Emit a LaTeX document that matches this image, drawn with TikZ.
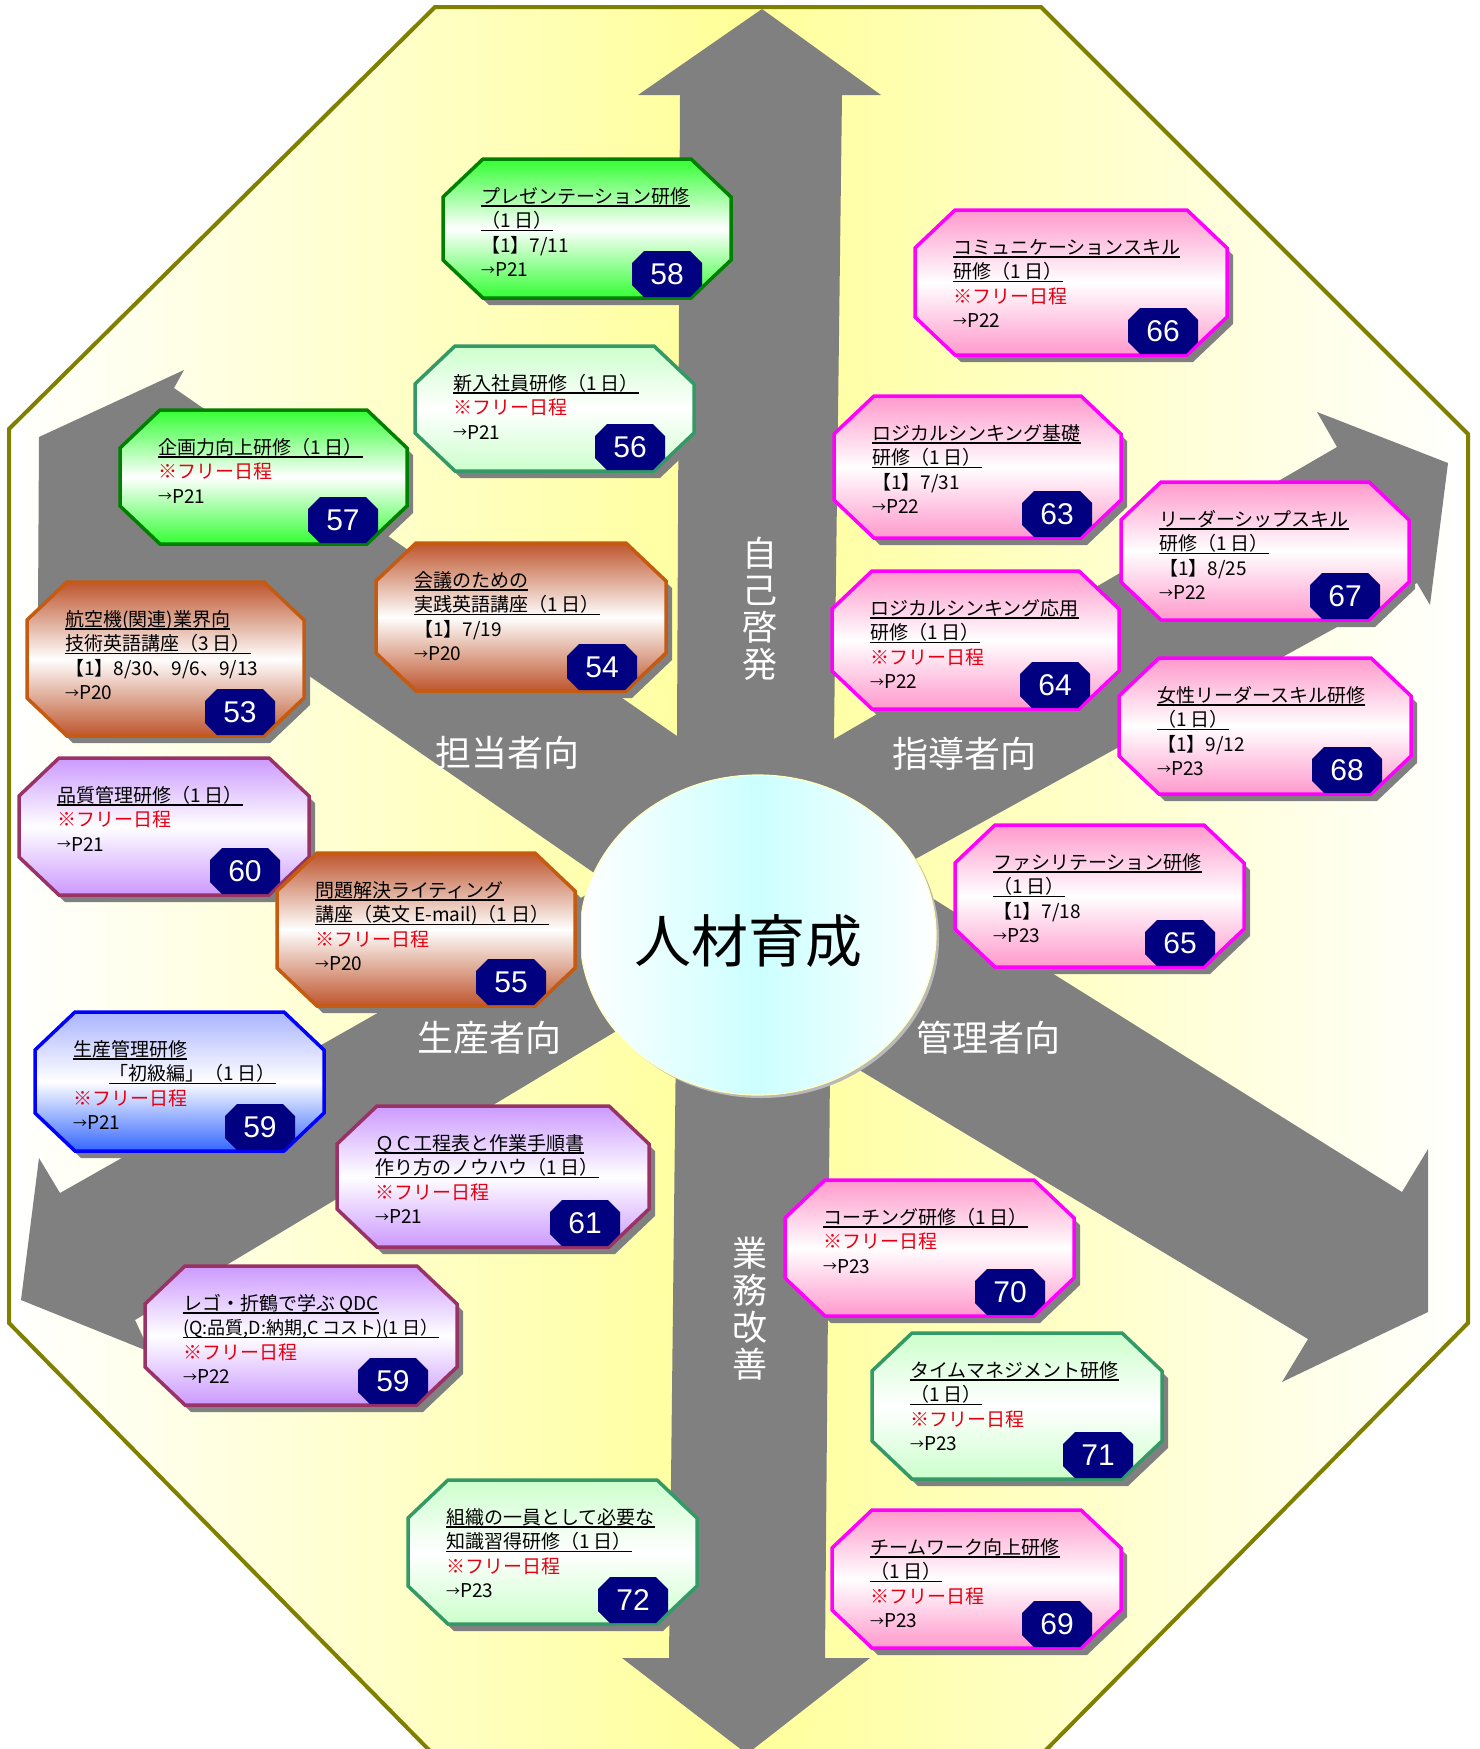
\documentclass[tikz,border=0pt]{standalone}
\usepackage{fontspec}
\setmainfont{Noto Sans CJK JP}
\newfontfamily\numfont{Liberation Sans}
\usetikzlibrary{shapes.geometric}
\definecolor{olivec}{RGB}{128,128,0}
\definecolor{yel}{RGB}{255,255,153}
\definecolor{arrowgray}{RGB}{128,128,128}
\definecolor{shadowc}{RGB}{128,128,128}
\definecolor{navyc}{RGB}{0,0,128}
\definecolor{jred}{RGB}{230,0,18}
\definecolor{cyanc}{RGB}{204,255,255}
\definecolor{grnfill}{RGB}{51,255,51}
\definecolor{grnline}{RGB}{0,128,0}
\definecolor{lgfill}{RGB}{204,255,204}
\definecolor{lgline}{RGB}{51,153,102}
\definecolor{pkfill}{RGB}{255,153,204}
\definecolor{pkline}{RGB}{255,0,255}
\definecolor{brfill}{RGB}{190,85,45}
\definecolor{brline}{RGB}{197,90,17}
\definecolor{pufill}{RGB}{204,153,255}
\definecolor{puline}{RGB}{153,51,102}
\definecolor{blfill}{RGB}{51,102,255}
\definecolor{bltop}{RGB}{170,180,255}
\definecolor{blline}{RGB}{0,0,255}
\newcommand\Ln[1]{\hbox{\rule[-6pt]{0pt}{24.5pt}#1}}
\newcommand\ulx[1]{\setbox0\hbox{#1}\rlap{\rule[-3.4pt]{\wd0}{1.3pt}}\box0}
\newcommand\fr{\textcolor{jred}{※フリー日程}}
\newcommand\arr{\raisebox{1.5pt}{\fontsize{14}{14}\selectfont →}}
\tikzset{
  boxline/.style={line width=3.5pt, line join=miter},
  greenbox/.style={top color=grnfill, bottom color=grnfill, middle color=white, draw=grnline},
  lgbox/.style={top color=lgfill, bottom color=lgfill, middle color=white, draw=lgline},
  pinkbox/.style={top color=pkfill, bottom color=pkfill, middle color=white, draw=pkline},
  brownbox/.style={top color=brfill, bottom color=brfill, middle color=white, draw=brline},
  purplebox/.style={top color=pufill, bottom color=pufill, middle color=white, draw=puline},
  bluebox/.style={top color=bltop, bottom color=blfill, middle color=white, draw=blline},
  txtblock/.style={anchor=north west, inner sep=0pt, font=\fontsize{19}{24.5}\selectfont},
  numtxt/.style={text=white, inner sep=0pt, font=\numfont\fontsize{30}{30}\selectfont},
  biglab/.style={text=white, inner sep=0pt, font=\fontsize{36}{36}\selectfont},
}
% #1 name, #2 x, #3 y, #4 w, #5 h, #6 style, #7 lines, #8 number
\newcommand\kbox[8]{%
 \begin{scope}[shift={(#2,#3)}]
  \fill[shadowc] (46,7) -- ({#4-34},7) -- ({#4+6},45) -- ({#4+6},{#5-31}) -- ({#4-34},{#5+7}) -- (46,{#5+7}) -- (6,{#5-31}) -- (6,45) -- cycle;
  \path[#6, boxline] (40,0) -- ({#4-40},0) -- (#4,38) -- (#4,{#5-38}) -- ({#4-40},#5) -- (40,#5) -- (0,{#5-38}) -- (0,38) -- cycle;
  \node[txtblock] (#1) at (38,25.5) {\vbox{\offinterlineskip #7}};
  \fill[navyc] ({#4-87},{#5-47}) -- ({#4-41},{#5-47}) -- ({#4-29},{#5-35}) -- ({#4-29},{#5-13}) -- ({#4-41},{#5-1}) -- ({#4-87},{#5-1}) -- ({#4-99},{#5-13}) -- ({#4-99},{#5-35}) -- cycle;
  \node[numtxt] (#1n) at ({#4-64},{#5-24}) {#8};
 \end{scope}}
\begin{document}
\begin{tikzpicture}[x=1pt,y=-1pt]
\useasboundingbox (0,0) rectangle (1480,1749);
% background octagon
\path[left color=white, right color=white, middle color=yel, draw=olivec, line width=4pt]
 (435,7) -- (1041,7) -- (1468,434) -- (1468,1323) -- (1042,1754) -- (433,1754) -- (9,1323) -- (9,429) -- cycle;
% arrows
\fill[arrowgray] (677,800) -- (677,736) -- (680,95) -- (638,95) -- (762,9) -- (881,95) -- (842,95) -- (834,736) -- (834,800) -- cycle;
\fill[arrowgray] (760,860) -- (760,782) -- (1337,447) -- (1317,412) -- (1448,463) -- (1430,605) -- (1417,583) -- (850,895) -- cycle;
\fill[arrowgray] (760,935) -- (900,878) -- (1402,1192) -- (1428,1149) -- (1428,1312) -- (1282,1382) -- (1308,1339) -- (831,1053) -- (760,1000) -- cycle;
\fill[arrowgray] (677,950) -- (669,1658) -- (622,1658) -- (747,1754) -- (870,1658) -- (825,1658) -- (831,950) -- cycle;
\fill[arrowgray] (760,935) -- (600,887) -- (60,1193) -- (39,1158) -- (21,1300) -- (150,1352) -- (135,1320) -- (613,1033) -- (673,997) -- (760,1000) -- cycle;
\fill[arrowgray] (760,935) -- (600,877) -- (250,635) -- (60,640) -- (38,612) -- (39,437) -- (184,370) -- (174,388) -- (677,736) -- (760,800) -- cycle;
% arrow labels
\node[biglab] (tanto) at (507,753) {担当者向};
\node[biglab] (shido) at (964,754) {指導者向};
\node[biglab] (seisan) at (489,1038) {生産者向};
\node[biglab] (kanri) at (988,1038) {管理者向};
\node[biglab, align=center, font=\fontsize{35}{37}\selectfont] (jiko) at (760,609) {自\\己\\啓\\発};
\node[biglab, align=center, font=\fontsize{35}{37}\selectfont] (gyomu) at (750,1309) {業\\務\\改\\善};
% centre ellipse
\fill[gray!55] (761,938) ellipse [x radius=178pt, y radius=160pt];
\node[ellipse, draw={rgb,255:red,255;green,255;blue,190}, line width=1.2pt, left color=white, right color=white, middle color=cyanc, minimum width=356pt, minimum height=320pt, inner sep=0pt] (core) at (758,935) {};
\node[inner sep=0pt, font=\fontsize{57}{57}\selectfont] (coretxt) at (748,941) {人材育成};
% course boxes
\kbox{b58}{443}{159}{288}{139}{greenbox}{\Ln{\ulx{プレゼンテーション研修}}\Ln{\ulx{（1 日）}}\Ln{【1】7/11}\Ln{\arr P21}}{58}
\kbox{b66}{915}{210}{312}{145}{pinkbox}{\Ln{\ulx{コミュニケーションスキル}}\Ln{\ulx{研修（1 日）}}\Ln{\fr}\Ln{\arr P22}}{66}
\kbox{b56}{415}{346}{279}{125}{lgbox}{\Ln{\ulx{新入社員研修（1 日）}}\Ln{\fr}\Ln{\arr P21}}{56}
\kbox{b57}{120}{410}{287}{134}{greenbox}{\Ln{\ulx{企画力向上研修（1 日）}}\Ln{\fr}\Ln{\arr P21}}{57}
\kbox{b63}{834}{396}{287}{142}{pinkbox}{\Ln{\ulx{ロジカルシンキング基礎}}\Ln{\ulx{研修（1 日）}}\Ln{【1】7/31}\Ln{\arr P22}}{63}
\kbox{b67}{1121}{482}{288}{138}{pinkbox}{\Ln{\ulx{リーダーシップスキル}}\Ln{\ulx{研修（1 日）}}\Ln{【1】8/25}\Ln{\arr P22}}{67}
\kbox{b54}{376}{543}{290}{148}{brownbox}{\Ln{\ulx{会議のための}}\Ln{\ulx{実践英語講座（1 日）}}\Ln{【1】7/19}\Ln{\arr P20}}{54}
\kbox{b53}{27}{582}{277}{154}{brownbox}{\Ln{\ulx{航空機(関連)業界向}}\Ln{\ulx{技術英語講座（3 日）}}\Ln{【1】8/30、9/6、9/13}\Ln{\arr P20}}{53}
\kbox{b64}{832}{571}{287}{138}{pinkbox}{\Ln{\ulx{ロジカルシンキング応用}}\Ln{\ulx{研修（1 日）}}\Ln{\fr}\Ln{\arr P22}}{64}
\kbox{b68}{1119}{658}{292}{136}{pinkbox}{\Ln{\ulx{女性リーダースキル研修}}\Ln{\ulx{（1 日）}}\Ln{【1】9/12}\Ln{\arr P23}}{68}
\kbox{b60}{19}{758}{290}{137}{purplebox}{\Ln{\ulx{品質管理研修（1 日）}}\Ln{\fr}\Ln{\arr P21}}{60}
\kbox{b65}{955}{825}{289}{142}{pinkbox}{\Ln{\ulx{ファシリテーション研修}}\Ln{\ulx{（1 日）}}\Ln{【1】7/18}\Ln{\arr P23}}{65}
\kbox{b55}{277}{853}{298}{153}{brownbox}{\Ln{\ulx{問題解決ライティング}}\Ln{\ulx{講座（英文 E-mail)（1 日）}}\Ln{\fr}\Ln{\arr P20}}{55}
\kbox{b59a}{35}{1012}{289}{139}{bluebox}{\Ln{\ulx{生産管理研修}}\Ln{\hspace{36pt}\ulx{「初級編」（1 日）}}\Ln{\fr}\Ln{\arr P21}}{59}
\kbox{b61}{337}{1106}{312}{141}{purplebox}{\Ln{\ulx{ＱＣ工程表と作業手順書}}\Ln{\ulx{作り方のノウハウ（1 日）}}\Ln{\fr}\Ln{\arr P21}}{61}
\kbox{b70}{785}{1180}{289}{136}{pinkbox}{\Ln{\ulx{コーチング研修（1 日）}}\Ln{\fr}\Ln{\arr P23}}{70}
\kbox{b59b}{145}{1266}{312}{139}{purplebox}{\Ln{\ulx{レゴ・折鶴で学ぶ QDC}}\Ln{\ulx{\fontsize{18}{24.5}\selectfont (Q:品質,D:納期,C コスト)(1 日）}}\Ln{\fr}\Ln{\arr P22}}{59}
\kbox{b71}{872}{1333}{290}{146}{lgbox}{\Ln{\ulx{タイムマネジメント研修}}\Ln{\ulx{（1 日）}}\Ln{\fr}\Ln{\arr P23}}{71}
\kbox{b72}{408}{1480}{289}{144}{lgbox}{\Ln{\ulx{組織の一員として必要な}}\Ln{\ulx{知識習得研修（1 日）}}\Ln{\fr}\Ln{\arr P23}}{72}
\kbox{b69}{832}{1510}{289}{138}{pinkbox}{\Ln{\ulx{チームワーク向上研修}}\Ln{\ulx{（1 日）}}\Ln{\fr}\Ln{\arr P23}}{69}
\end{tikzpicture}
\end{document}
